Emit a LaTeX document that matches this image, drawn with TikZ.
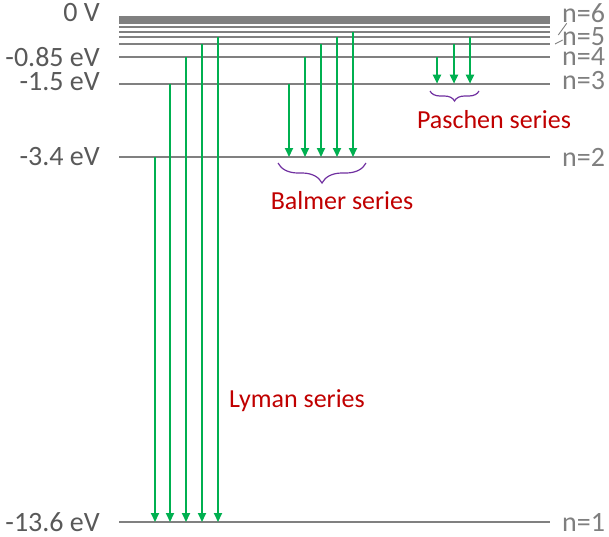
\documentclass[tikz,border=0pt]{standalone}
\usepackage{fontspec}
\setmainfont{Carlito}
\usetikzlibrary{arrows.meta,decorations.pathreplacing}
\definecolor{lvlgray}{HTML}{808080}
\definecolor{egray}{HTML}{595959}
\definecolor{ngray}{HTML}{7F7F7F}
\definecolor{trgreen}{HTML}{00B050}
\definecolor{brpurple}{HTML}{7030A0}
\definecolor{serred}{HTML}{C00000}
\tikzset{
  level/.style={draw=lvlgray, line width=1.8pt},
  trans/.style={draw=trgreen, line width=2pt, -{Triangle[width=8pt,length=9pt]}},
  grp/.style={draw=brpurple, line width=1.2pt, decorate, decoration={brace,mirror,amplitude=#1}},
  elab/.style={anchor=east, inner sep=0pt, text=egray, font=\fontsize{28}{30}\selectfont},
  nlab/.style={anchor=west, inner sep=0pt, text=ngray, font=\fontsize{28}{30}\selectfont},
  ser/.style={text=serred, font=\fontsize{26}{28}\selectfont}
}
\begin{document}
\begin{tikzpicture}[x=1pt,y=-1pt]
    \useasboundingbox (0,0) rectangle (609,536);
    \draw [level] (119,522) coordinate (n1) -- (550,522) coordinate (m1);
    \draw [level] (119,157) coordinate (n2) -- (550,157) coordinate (m2);
    \draw [level] (119,83.7) coordinate (n3) -- (550,83.7) coordinate (m3);
    \draw [level] (119,57) coordinate (n4) -- (550,57) coordinate (m4);
    \draw [level] (119,44.3) coordinate (n5) -- (550,44.3) coordinate (m5);
    \draw [level] (119,36.7) coordinate (n6) -- (550,36.7) coordinate (m6);
    \draw [level] (119,31.7) coordinate (n7) -- (550,31.7) coordinate (m7);
    \draw [level] (119,27.3) coordinate (n8) -- (550,27.3) coordinate (m8);
    \draw [level] (119,23.3) coordinate (n9) -- (550,23.3) coordinate (m9);
    \draw [level, line width=5.4pt] (119,19) coordinate (ninf) -- (550,19) coordinate (minf);
    \node [elab] (e0) at (100,13) {0 V};
    \node [elab] (e4) at (100,57) {-0.85 eV};
    \node [elab] (e3) at (100,82) {-1.5 eV};
    \node [elab] (e2) at (100,157) {-3.4 eV};
    \node [elab] (e1) at (100,522) {-13.6 eV};
    \node [nlab] (l6) at (562,13) {n=6};
    \node [nlab] (l5) at (562,37) {n=5};
    \node [nlab] (l4) at (562,57) {n=4};
    \node [nlab] (l3) at (562,81) {n=3};
    \node [nlab] (l2) at (562,157) {n=2};
    \node [nlab] (l1) at (562,522) {n=1};
    \draw [ngray, line width=0.9pt] (566.7,23.3) -- (558.3,35);
    \draw [ngray, line width=0.9pt] (562.7,40) -- (555,44);
    \draw [trans] (155,0 |- n2) -- (155,0 |- n1);
    \draw [trans] (170,0 |- n3) -- (170,0 |- n1);
    \draw [trans] (186,0 |- n4) -- (186,0 |- n1);
    \draw [trans] (202,0 |- n5) -- (202,0 |- n1);
    \draw [trans] (218,0 |- n6) -- (218,0 |- n1);
    \draw [trans] (289,0 |- n3) -- (289,0 |- n2);
    \draw [trans] (305,0 |- n4) -- (305,0 |- n2);
    \draw [trans] (321,0 |- n5) -- (321,0 |- n2);
    \draw [trans] (337,0 |- n6) -- (337,0 |- n2);
    \draw [trans] (353,0 |- n7) -- (353,0 |- n2);
    \draw [trans] (437,0 |- n4) -- (437,0 |- n3);
    \draw [trans] (454,0 |- n5) -- (454,0 |- n3);
    \draw [trans] (470,0 |- n6) -- (470,0 |- n3);
    \draw [grp=20pt] (278,163) -- (366,163);
    \draw [grp=10pt] (430,91) -- (479,91);
    \node [ser] (bal) at (342,201) {Balmer series};
    \node [ser] (pas) at (494,120) {Paschen series};
    \node [ser] (lym) at (297,401) {Lyman series};
\end{tikzpicture}
\end{document}
